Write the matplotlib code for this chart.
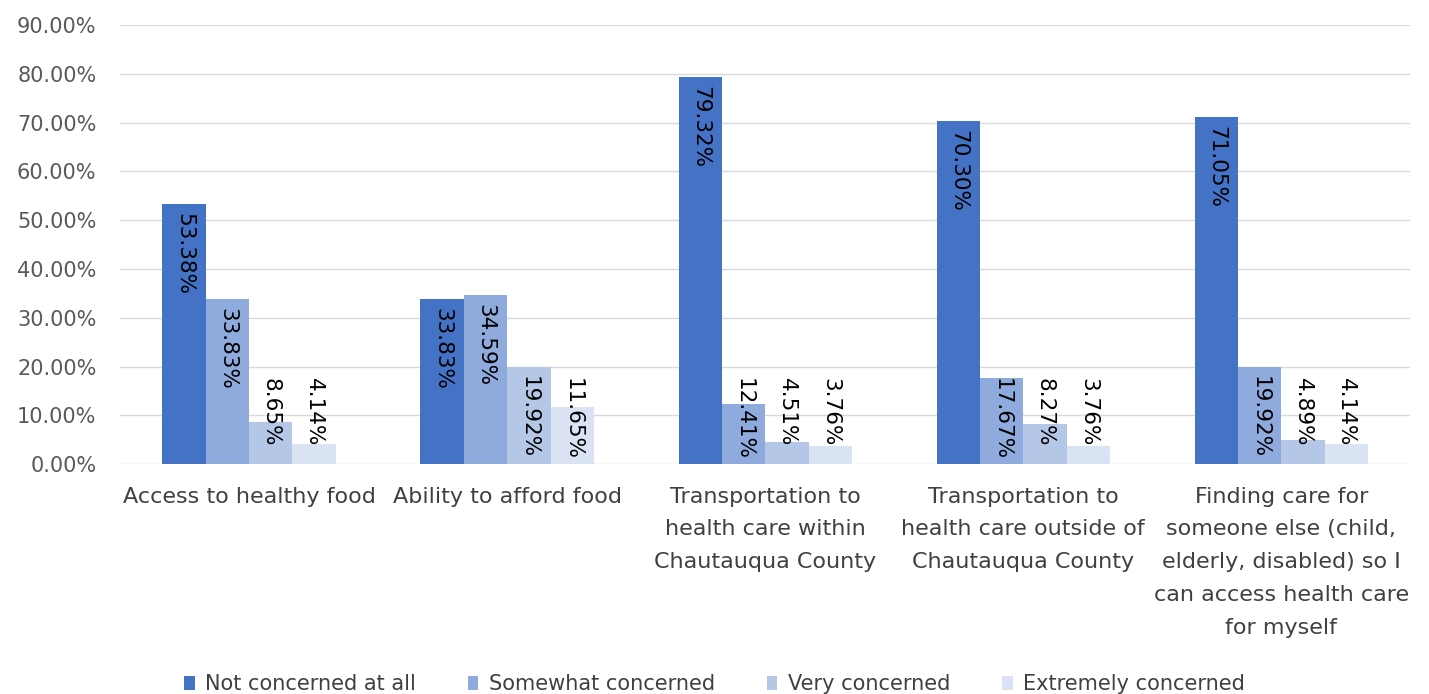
import numpy as np
import matplotlib.pyplot as plt

plt.rcParams['font.family'] = ['DejaVu Sans']

categories = ["Access to healthy food",
              "Ability to afford food",
              "Transportation to\nhealth care within\nChautauqua County",
              "Transportation to\nhealth care outside of\nChautauqua County",
              "Finding care for\nsomeone else (child,\nelderly, disabled) so I\ncan access health care\nfor myself"]
series_names = ["Not concerned at all", "Somewhat concerned", "Very concerned", "Extremely concerned"]
not_concerned = [53.38, 33.83, 79.32, 70.30, 71.05]
somewhat = [33.83, 34.59, 12.41, 17.67, 19.92]
very = [8.65, 19.92, 4.51, 8.27, 4.89]
extremely = [4.14, 11.65, 3.76, 3.76, 4.14]
colors = ["#4472C4", "#8FAADC", "#B4C7E7", "#DAE3F3"]

fig = plt.figure(figsize=(14.29, 6.94), dpi=100)
ax = fig.add_axes([0.084, 0.331, 0.903, 0.633])

x = np.arange(len(categories))
w = 0.168
all_series = [not_concerned, somewhat, very, extremely]
for i, (vals, name, c) in enumerate(zip(all_series, series_names, colors)):
    pos = x + (i - 1.5) * w
    ax.bar(pos, vals, width=w, color=c, label=name, zorder=2)
    for p, v in zip(pos, vals):
        # inside end, pushed up when the bar is too short for the text
        ytop = max(v - 1.8, 17.6)
        ax.text(p, ytop, f"{v:.2f}%", rotation=-90, ha='center', va='top',
                fontsize=15.5, color='#000000', zorder=3)

ax.set_ylim(0, 90)
ax.set_xlim(-0.5, len(categories) - 0.5)
ax.set_yticks(np.arange(0, 91, 10))
ax.set_yticklabels([f"{t:.2f}%" for t in np.arange(0, 91, 10)], fontsize=15, color='#595959')
ax.set_xticks(x)
ax.set_xticklabels(categories, fontsize=16, color='#404040', linespacing=1.8)
ax.tick_params(axis='both', length=0)
ax.tick_params(axis='x', pad=16)
ax.tick_params(axis='y', pad=17)
ax.grid(axis='y', color='#D9D9D9', linewidth=1, zorder=0)
for s in ax.spines.values():
    s.set_visible(False)

fig.legend(loc='lower center', bbox_to_anchor=(0.5, -0.027), ncol=4, frameon=False,
           fontsize=15, handlelength=0.5, handleheight=0.65, columnspacing=2.5,
           handletextpad=0.5, labelcolor='#404040')

fig.savefig("out.png", dpi=100)
